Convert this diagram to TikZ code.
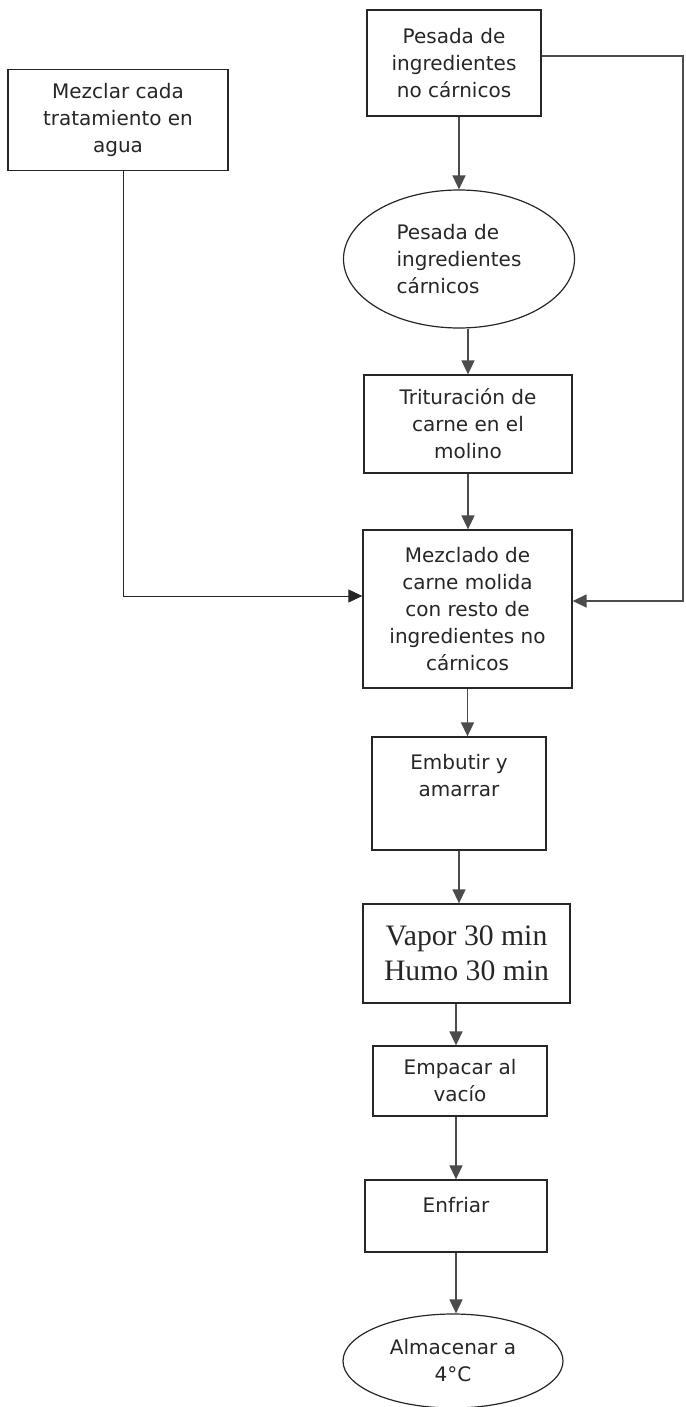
\documentclass[tikz,border=0pt]{standalone}
\usepackage{fontspec}
\setmainfont{DejaVu Sans}
\newfontfamily\vaporfont{Liberation Serif}
\usetikzlibrary{shapes.geometric,arrows.meta}

\begin{document}
\begin{tikzpicture}[x=1pt,y=-1pt]
   \tikzstyle{every node}=[font=\fontsize{20}{27}\selectfont, text=black!85, align=center, inner sep=0pt]
   \tikzstyle{stepbox}=[draw=black!85, line width=1.3pt, rectangle]
   \tikzstyle{stepoval}=[draw=black!85, line width=1.2pt, ellipse]
   \tikzstyle{flow}=[draw=black!70, line width=1.5pt, -{Triangle[length=14pt,width=13pt]}]
   \tikzstyle{feed}=[draw=black!85, line width=1pt, -{Triangle[length=14pt,width=13pt]}]

   \useasboundingbox (0,0) rectangle (685,1407);

   \node[stepbox, minimum width=220pt, minimum height=101pt] (agua) at (118,120)
      {Mezclar cada\\tratamiento en\\agua};
   \node[stepbox, minimum width=174pt, minimum height=106pt] (nocarn) at (454,63)
      {Pesada de\\ingredientes\\no cárnicos};
   \node[stepoval, minimum width=231pt, minimum height=138pt, align=left] (carn) at (459,259)
      {Pesada de\\ingredientes\\cárnicos};
   \node[stepbox, minimum width=208pt, minimum height=98pt] (molino) at (468,424)
      {Trituración de\\carne en el\\molino};
   \node[stepbox, minimum width=209pt, minimum height=158pt] (mezcla) at (467.5,609)
      {Mezclado de\\carne molida\\con resto de\\ingredientes no\\cárnicos};
   \node[stepbox, minimum width=174pt, minimum height=113pt] (embutir) at (459,793.5) {};
   \node (embutirtxt) at (459,776) {Embutir y\\amarrar};
   \node[stepbox, minimum width=207pt, minimum height=99pt,
         font=\vaporfont\fontsize{29.7}{35}\selectfont] (vapor) at (466.5,953.5)
      {Vapor 30 min\\Humo 30 min};
   \node[stepbox, minimum width=174pt, minimum height=70pt] (empacar) at (460,1081)
      {Empacar al\\vacío};
   \node[stepbox, minimum width=182pt, minimum height=72pt] (enfriar) at (456,1216) {};
   \node (enfriartxt) at (456,1205) {Enfriar};
   \node[stepoval, minimum width=220pt, minimum height=94pt] (almacen) at (453,1361)
      {Almacenar a\\4°C};

   \draw[flow] (carn.north |- nocarn.south) -- (carn.north);
   \draw[flow] (molino.north |- carn.south) -- (molino.north);
   \draw[flow] (molino.south) -- (molino.south |- mezcla.north);
   \draw[flow] (mezcla.south) -- (mezcla.south |- embutir.north);
   \draw[flow] (embutir.south) -- (embutir.south |- vapor.north);
   \draw[flow] (enfriar.north |- vapor.south) -- (enfriar.north |- empacar.north);
   \draw[flow] (enfriar.north |- empacar.south) -- (enfriar.north);
   \draw[flow] (enfriar.south) -- (enfriar.south |- almacen.north);

   \coordinate (aguaturn) at (123,596);
   \coordinate (mezclaleft) at ([yshift=13pt]mezcla.west);
   \draw[feed] (aguaturn |- agua.south) -- (aguaturn) -- (mezclaleft);

   \coordinate (nocarnturn) at (683,56);
   \coordinate (mezclaright) at ([yshift=8pt]mezcla.east);
   \draw[flow] (nocarnturn -| nocarn.east) -- (nocarnturn) -- (nocarnturn |- mezclaright) -- (mezclaright);
\end{tikzpicture}
\end{document}
